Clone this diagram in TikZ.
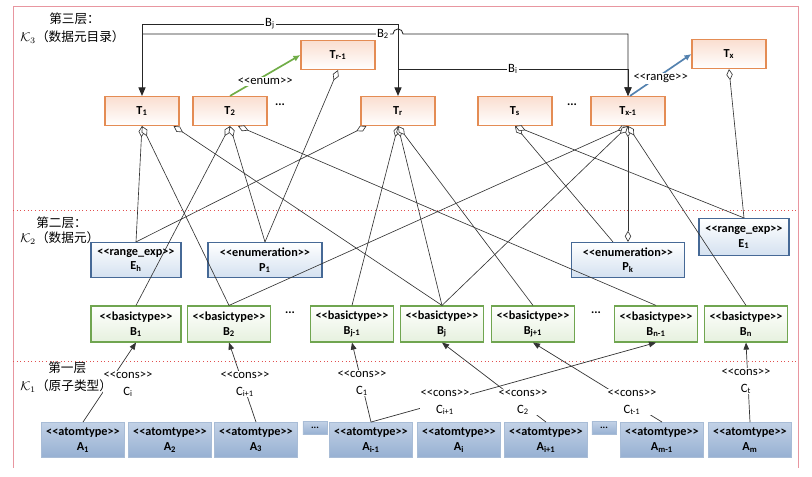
\documentclass[tikz,border=0pt]{standalone}
\usepackage{fontspec}
\setmainfont{Carlito}[Ligatures=TeXOff]
\newfontfamily\cjk{Noto Sans CJK SC}
\usetikzlibrary{arrows.meta}

\definecolor{catalogEdge}{RGB}{228,140,84}
\definecolor{catalogFill}{RGB}{250,222,208}
\definecolor{elementEdge}{RGB}{70,105,150}
\definecolor{elementFill}{RGB}{212,225,240}
\definecolor{basicEdge}{RGB}{112,165,80}
\definecolor{basicFill}{RGB}{230,241,222}
\definecolor{atomTop}{RGB}{194,209,230}
\definecolor{atomBottom}{RGB}{150,176,210}
\definecolor{atomEdge}{RGB}{168,188,214}
\definecolor{frameRed}{RGB}{232,150,160}
\definecolor{sepRed}{RGB}{225,80,80}
\definecolor{enumGreen}{RGB}{112,173,71}
\definecolor{rangeBlue}{RGB}{84,130,175}

\tikzset{
    % --- Layer 3: data element catalog ---
    catalog block/.style = {
        rectangle, draw=catalogEdge, line width=0.8pt,
        top color=catalogFill, bottom color=white,
        minimum width=1.85cm, minimum height=0.725cm,
        font=\fontsize{8.7}{10.6}\selectfont\bfseries, inner sep=1pt
    },
    % --- Layer 2: data elements ---
    element block/.style = {
        rectangle, draw=elementEdge, line width=0.8pt,
        top color=white, bottom color=elementFill,
        minimum height=0.875cm, align=center,
        font=\fontsize{8.7}{10.6}\selectfont\bfseries, inner sep=1pt
    },
    % --- Layer 2: basic types ---
    basic block/.style = {
        rectangle, draw=basicEdge, line width=0.8pt,
        top color=white, bottom color=basicFill,
        minimum width=2.075cm, minimum height=0.9cm, align=center,
        font=\fontsize{8.7}{10.6}\selectfont\bfseries, inner sep=1pt
    },
    % --- Layer 1: atom types ---
    atom block/.style = {
        rectangle, draw=atomEdge, line width=0.6pt,
        top color=atomTop, bottom color=atomBottom,
        minimum width=2.075cm, minimum height=0.875cm, align=center,
        font=\fontsize{8.7}{10.6}\selectfont\bfseries, inner sep=1pt
    },
    % --- small "..." filler box in the atom row ---
    atom gap/.style = {
        atom block, minimum width=0.6cm, minimum height=0.325cm,
        font=\fontsize{7}{8}\selectfont\bfseries
    },
    gap dots/.style = {font=\fontsize{8.7}{10}\selectfont\bfseries},
    % --- layer captions ---
    layer label/.style = {anchor=west, inner sep=0pt, font=\fontsize{9}{10}\selectfont},
    % --- layer separators ---
    layer sep/.style = {draw=sepRed, dotted, line width=0.6pt},
    % --- connectors ---
    agg line/.style = {
        draw=black!80, line width=0.45pt,
        {Diamond[fill=white,length=8pt,width=4.5pt]}-
    },
    agg both/.style = {
        draw=black!80, line width=0.45pt,
        {Diamond[fill=white,length=8pt,width=4.5pt]}-{Diamond[fill=white,length=8pt,width=4.5pt]}
    },
    cons arrow/.style = {
        draw=black!80, line width=0.5pt,
        -{Triangle[length=5pt,width=4pt]}
    },
    ref arrow/.style = {
        draw=black!85, line width=0.6pt
    },
    enum arrow/.style = {
        draw=enumGreen, line width=1.2pt, -{Latex[length=5pt,width=4.5pt]}
    },
    range arrow/.style = {
        draw=rangeBlue, line width=1.2pt, -{Latex[length=5pt,width=4.5pt]}
    },
    line label/.style = {
        fill=white, inner sep=0.8pt, font=\fontsize{9}{10}\selectfont
    },
    cons label/.style = {
        fill=white, inner sep=0.5pt, align=center,
        font=\fontsize{9}{12}\selectfont
    }
}

\begin{document}
\begin{tikzpicture}[x=0.025cm, y=-0.025cm]

\useasboundingbox (0,0) rectangle (812,477);

% ---------------------------------------------------------
% Frame and layer separators
% ---------------------------------------------------------
\draw[frameRed, line width=0.7pt] (13,468) -- (13,6) -- (798,6) -- (798,468);
\draw[layer sep] (13,210) -- (798,210);
\draw[layer sep] (13,361) -- (798,361);

\node[layer label] (L3a) at (49,19) {\cjk 第三层：};
\node[layer label] (L3b) at (20,37) {$\mathcal{K}_3${\cjk （数据元目录）}};
\node[layer label] (L2a) at (36,223) {\cjk 第二层：};
\node[layer label] (L2b) at (20,238) {$\mathcal{K}_2${\cjk （数据元）}};
\node[layer label] (L1a) at (48,368) {\cjk 第一层};
\node[layer label] (L1b) at (20,386) {$\mathcal{K}_1${\cjk （原子类型）}};

% ---------------------------------------------------------
% Layer 3: catalog
% ---------------------------------------------------------
\node[catalog block] (T1)  at (142,111) {T\textsubscript{1}};
\node[catalog block] (T2)  at (230,111) {T\textsubscript{2}};
\node[catalog block] (Tr1) at (338,55)  {T\textsubscript{r-1}};
\node[catalog block] (Tr)  at (398,111) {T\textsubscript{r}};
\node[catalog block] (Ts)  at (515,111) {T\textsubscript{s}};
\node[catalog block] (Tx1) at (628,111) {T\textsubscript{x-1}};
\node[catalog block] (Tx)  at (729,54)  {T\textsubscript{x}};
\node[gap dots] (tdots1) at (280,105) {...};
\node[gap dots] (tdots2) at (572,105) {...};

% ---------------------------------------------------------
% Layer 2: data elements and basic types
% ---------------------------------------------------------
\node[element block, minimum width=2.25cm] (Eh) at (136,260) {<<range\_exp>>\\E\textsubscript{h}};
\node[element block, minimum width=2.85cm] (P1) at (265,260) {<<enumeration>>\\P\textsubscript{1}};
\node[element block, minimum width=2.83cm] (Pk) at (628,260) {<<enumeration>>\\P\textsubscript{k}};
\node[element block, minimum width=2.25cm, minimum height=0.925cm] (E1) at (744,237) {<<range\_exp>>\\E\textsubscript{1}};

\node[basic block, minimum width=2.25cm] (B1) at (136,324) {<<basictype>>\\B\textsubscript{1}};
\node[basic block] (B2)  at (229,324) {<<basictype>>\\B\textsubscript{2}};
\node[basic block] (Bj1) at (352,324) {<<basictype>>\\B\textsubscript{j-1}};
\node[basic block] (Bj)  at (442,324) {<<basictype>>\\B\textsubscript{j}};
\node[basic block] (Bjp) at (533,324) {<<basictype>>\\B\textsubscript{j+1}};
\node[basic block] (Bn1) at (656,324) {<<basictype>>\\B\textsubscript{n-1}};
\node[basic block] (Bn)  at (746,324) {<<basictype>>\\B\textsubscript{n}};
\node[gap dots] (bdots1) at (290,313) {...};
\node[gap dots] (bdots2) at (596,313) {...};

% ---------------------------------------------------------
% Layer 1: atom types
% ---------------------------------------------------------
\node[atom block] (A1)  at (83,440)  {<<atomtype>>\\A\textsubscript{1}};
\node[atom block] (A2)  at (170,440) {<<atomtype>>\\A\textsubscript{2}};
\node[atom block] (A3)  at (256,440) {<<atomtype>>\\A\textsubscript{3}};
\node[atom gap]   (adots1) at (315,428) {...};
\node[atom block] (Ai1) at (371,440) {<<atomtype>>\\A\textsubscript{i-1}};
\node[atom block] (Ai)  at (459,440) {<<atomtype>>\\A\textsubscript{i}};
\node[atom block] (Aip) at (546,440) {<<atomtype>>\\A\textsubscript{i+1}};
\node[atom gap]   (adots2) at (604,428) {...};
\node[atom block] (Am1) at (662,440) {<<atomtype>>\\A\textsubscript{m-1}};
\node[atom block] (Am)  at (750,440) {<<atomtype>>\\A\textsubscript{m}};

% ---------------------------------------------------------
% References between catalog entries
% ---------------------------------------------------------
\draw[ref arrow, {Triangle[length=6pt,width=5pt]}-{Triangle[length=6pt,width=5pt]}]
    (T1.north) -- ++(0,-72) -- node[line label]{B\textsubscript{j}} ++(256,0) -- (Tr.north);
\draw[ref arrow, -{Triangle[length=6pt,width=5pt]}]
    (T1.north) ++(0,-62) -- node[line label, pos=0.96]{B\textsubscript{2}} ++(251,0)
    arc[start angle=180, end angle=360, radius=5] -| (Tx1.north);
\draw[ref arrow, -{Triangle[length=6pt,width=5pt]}]
    (Tr.north) ++(0,-27) -- node[line label]{B\textsubscript{i}} ++(230,0) -- (Tx1.north);

\draw[enum arrow] (T2.north) -- node[line label, yshift=-0.15cm]{<<enum>>} (Tr1.west);
\draw[range arrow] ([xshift=0.05cm]Tx1.north) -- node[line label, yshift=-0.08cm]{<<range>>} (Tx.west);

% ---------------------------------------------------------
% Aggregation: catalog -> elements / basic types
% ---------------------------------------------------------
\draw[agg line] (T1.south) -- (Eh.north);
\draw[agg line] (T1.south) -- (B2.north);
\draw[agg line] ([xshift=-0.15cm]T1.south east) -- (Bj.north);
\draw[agg line] (T2.south) -- (B1.north);
\draw[agg line] (T2.south) -- (P1.north);
\draw[agg line] ([xshift=0.2cm]T2.south) -- (Bn1.north);
\draw[agg line] (Tr1.south) -- (P1.north);
\draw[agg line] ([xshift=0.15cm]Tr.south west) -- (Eh.north);
\draw[agg line] (Tr.south) -- (Bj1.north);
\draw[agg line] (Tr.south) -- (Bj.north);
\draw[agg line] (Tr.south) -- (Bjp.north);
\draw[agg line] (Ts.south) -- ([xshift=-0.375cm]Pk.north);
\draw[agg line] (Ts.south) -- (E1.north);
\draw[agg both] (Tx1.south) -- (Pk.north);
\draw[agg line] (Tx1.south) -- (B2.north);
\draw[agg line] (Tx1.south) -- (Bj.north);
\draw[agg line] (Tx1.south) -- (Bn.north);
\draw[agg line] (Tx.south) -- (E1.north);

% ---------------------------------------------------------
% Construction: atom types -> basic types
% ---------------------------------------------------------
\draw[cons arrow] (A1.north)  -- (B1.south);
\draw[cons arrow] (A3.north)  -- (B2.south);
\draw[cons arrow] (Ai1.north) -- (Bj1.south);
\draw[cons arrow] (Ai1.north) -- (Bn1.south);
\draw[cons arrow] (Aip.north) -- (Bj.south);
\draw[cons arrow] (Am1.north) -- (Bjp.south);
\draw[cons arrow] (Am.north)  -- (Bn.south);

\node[cons label] (c1) at (128,384) {<<cons>>\\C\textsubscript{i}};
\node[cons label] (c2) at (245,384) {<<cons>>\\C\textsubscript{i+1}};
\node[cons label] (c3) at (362,383) {<<cons>>\\C\textsubscript{1}};
\node[cons label] (c4) at (445,402) {<<cons>>\\C\textsubscript{i+1}};
\node[cons label] (c5) at (523,402) {<<cons>>\\C\textsubscript{2}};
\node[cons label] (c6) at (632,402) {<<cons>>\\C\textsubscript{t-1}};
\node[cons label] (c7) at (746,381) {<<cons>>\\C\textsubscript{t}};

\end{tikzpicture}
\end{document}
